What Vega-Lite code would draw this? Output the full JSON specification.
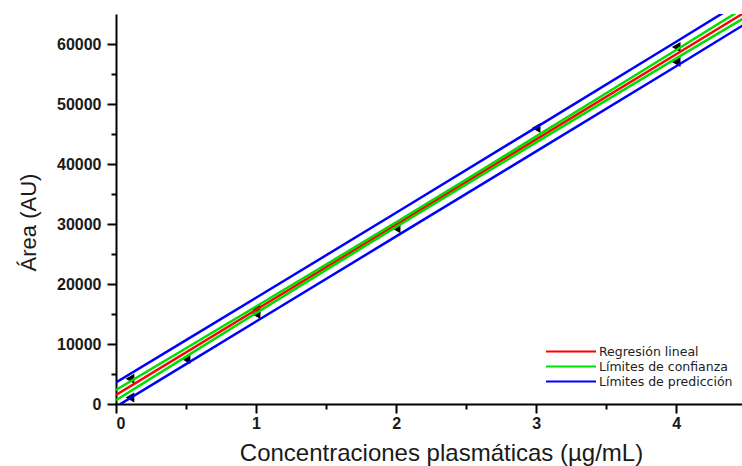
{
  "$schema": "https://vega.github.io/schema/vega-lite/v6.json",
  "width": 626,
  "height": 390,
  "autosize": {"type": "none"},
  "padding": {"left": 116, "top": 14, "right": 0, "bottom": 62},
  "background": "white",
  "config": {
    "view": {"stroke": null},
    "axis": {
      "grid": false,
      "domainColor": "black",
      "domainWidth": 2,
      "tickColor": "black",
      "tickWidth": 2,
      "labelFont": "Liberation Sans",
      "labelFontSize": 16,
      "labelFontWeight": "bold",
      "labelColor": "#1a1a1a",
      "titleFont": "Liberation Sans",
      "titleFontWeight": "normal",
      "titleColor": "#1a1a1a"
    }
  },
  "datasets": {
    "lineas": [
      {"x": 0, "y": 1500, "serie": "Regresión lineal", "linea": "reg"},
      {"x": 1, "y": 15700, "serie": "Regresión lineal", "linea": "reg"},
      {"x": 2, "y": 29900, "serie": "Regresión lineal", "linea": "reg"},
      {"x": 3, "y": 44100, "serie": "Regresión lineal", "linea": "reg"},
      {"x": 4, "y": 58300, "serie": "Regresión lineal", "linea": "reg"},
      {"x": 4.5, "y": 65400, "serie": "Regresión lineal", "linea": "reg"},
      {"x": 0, "y": 2350, "serie": "Límites de confianza", "linea": "cu"},
      {"x": 0.5, "y": 9300, "serie": "Límites de confianza", "linea": "cu"},
      {"x": 1, "y": 16250, "serie": "Límites de confianza", "linea": "cu"},
      {"x": 1.5, "y": 23250, "serie": "Límites de confianza", "linea": "cu"},
      {"x": 2, "y": 30300, "serie": "Límites de confianza", "linea": "cu"},
      {"x": 2.5, "y": 37420, "serie": "Límites de confianza", "linea": "cu"},
      {"x": 3, "y": 44600, "serie": "Límites de confianza", "linea": "cu"},
      {"x": 3.5, "y": 51800, "serie": "Límites de confianza", "linea": "cu"},
      {"x": 4, "y": 59000, "serie": "Límites de confianza", "linea": "cu"},
      {"x": 4.5, "y": 66250, "serie": "Límites de confianza", "linea": "cu"},
      {"x": 0, "y": 650, "serie": "Límites de confianza", "linea": "cl"},
      {"x": 0.5, "y": 7900, "serie": "Límites de confianza", "linea": "cl"},
      {"x": 1, "y": 15150, "serie": "Límites de confianza", "linea": "cl"},
      {"x": 1.5, "y": 22350, "serie": "Límites de confianza", "linea": "cl"},
      {"x": 2, "y": 29500, "serie": "Límites de confianza", "linea": "cl"},
      {"x": 2.5, "y": 36580, "serie": "Límites de confianza", "linea": "cl"},
      {"x": 3, "y": 43600, "serie": "Límites de confianza", "linea": "cl"},
      {"x": 3.5, "y": 50600, "serie": "Límites de confianza", "linea": "cl"},
      {"x": 4, "y": 57600, "serie": "Límites de confianza", "linea": "cl"},
      {"x": 4.5, "y": 64550, "serie": "Límites de confianza", "linea": "cl"},
      {"x": 0, "y": 3600, "serie": "Límites de predicción", "linea": "pu"},
      {"x": 0.5, "y": 10650, "serie": "Límites de predicción", "linea": "pu"},
      {"x": 1, "y": 17700, "serie": "Límites de predicción", "linea": "pu"},
      {"x": 2, "y": 31870, "serie": "Límites de predicción", "linea": "pu"},
      {"x": 3, "y": 46100, "serie": "Límites de predicción", "linea": "pu"},
      {"x": 4, "y": 60380, "serie": "Límites de predicción", "linea": "pu"},
      {"x": 4.5, "y": 67550, "serie": "Límites de predicción", "linea": "pu"},
      {"x": 0, "y": -450, "serie": "Límites de predicción", "linea": "pl"},
      {"x": 0.5, "y": 6650, "serie": "Límites de predicción", "linea": "pl"},
      {"x": 1, "y": 13750, "serie": "Límites de predicción", "linea": "pl"},
      {"x": 2, "y": 27930, "serie": "Límites de predicción", "linea": "pl"},
      {"x": 3, "y": 42100, "serie": "Límites de predicción", "linea": "pl"},
      {"x": 4, "y": 56300, "serie": "Límites de predicción", "linea": "pl"},
      {"x": 4.5, "y": 63450, "serie": "Límites de predicción", "linea": "pl"}
    ],
    "puntos": [
      {"x": 0.1, "y": 4200},
      {"x": 0.1, "y": 1100},
      {"x": 0.5, "y": 7500},
      {"x": 1, "y": 15800},
      {"x": 1, "y": 15000},
      {"x": 2, "y": 29300},
      {"x": 3, "y": 46000},
      {"x": 4, "y": 59500},
      {"x": 4, "y": 57000}
    ],
    "minx": [
      {"x": 0.5}, {"x": 1.5}, {"x": 2.5}, {"x": 3.5}
    ],
    "miny": [
      {"y": 5000}, {"y": 15000}, {"y": 25000}, {"y": 35000}, {"y": 45000}, {"y": 55000}
    ]
  },
  "resolve": {"axis": {"x": "independent", "y": "independent"}},
  "layer": [
    {
      "data": {"name": "minx"},
      "mark": {"type": "point", "opacity": 0},
      "encoding": {
        "x": {"field": "x", "type": "quantitative", "scale": {"domain": [0, 4.47], "nice": false, "zero": false},
          "axis": {"orient": "bottom", "values": [0.5, 1.5, 2.5, 3.5], "labels": false, "tickSize": 5, "domain": false, "title": null}},
        "y": {"datum": 0, "type": "quantitative", "axis": null}
      }
    },
    {
      "data": {"name": "miny"},
      "mark": {"type": "point", "opacity": 0},
      "encoding": {
        "y": {"field": "y", "type": "quantitative", "scale": {"domain": [0, 65000], "nice": false},
          "axis": {"orient": "left", "values": [5000, 15000, 25000, 35000, 45000, 55000], "labels": false, "tickSize": 5, "domain": false, "title": null}},
        "x": {"datum": 0, "type": "quantitative", "axis": null}
      }
    },
    {
      "data": {"name": "puntos"},
      "mark": {"type": "point", "shape": "triangle-left", "filled": true, "color": "black", "size": 100, "opacity": 1},
      "encoding": {
        "x": {"field": "x", "type": "quantitative", "axis": null},
        "y": {"field": "y", "type": "quantitative", "axis": null}
      }
    },
    {
      "data": {"name": "lineas"},
      "mark": {"type": "line", "clip": true, "strokeWidth": 2.5},
      "encoding": {
        "x": {"field": "x", "type": "quantitative",
          "axis": {"orient": "bottom", "values": [0, 1, 2, 3, 4], "tickSize": 9, "labelPadding": 2, "title": "Concentraciones plasmáticas (µg/mL)", "titleFontSize": 24, "titleBaseline": "middle", "titleX": 325, "titleY": 49}},
        "y": {"field": "y", "type": "quantitative",
          "axis": {"orient": "left", "values": [0, 10000, 20000, 30000, 40000, 50000, 60000], "format": "d", "tickSize": 9, "labelPadding": 6, "title": "Área (AU)", "titleFontSize": 22, "titleBaseline": "middle", "titleX": -88, "titleY": 208}},
        "color": {"field": "serie", "type": "nominal",
          "scale": {"domain": ["Regresión lineal", "Límites de confianza", "Límites de predicción"], "range": ["#ff0000", "#00dd00", "#0000ff"]},
          "legend": {"orient": "none", "legendX": 429, "legendY": 330, "title": null, "symbolType": "stroke", "symbolSize": 2500, "symbolStrokeWidth": 2, "clipHeight": 15, "labelFont": "DejaVu Sans", "labelFontSize": 12.5, "labelColor": "#222", "rowPadding": 0, "labelOffset": 2}},
        "detail": {"field": "linea", "type": "nominal"},
        "order": {"field": "x", "type": "quantitative"}
      }
    }
  ]
}
